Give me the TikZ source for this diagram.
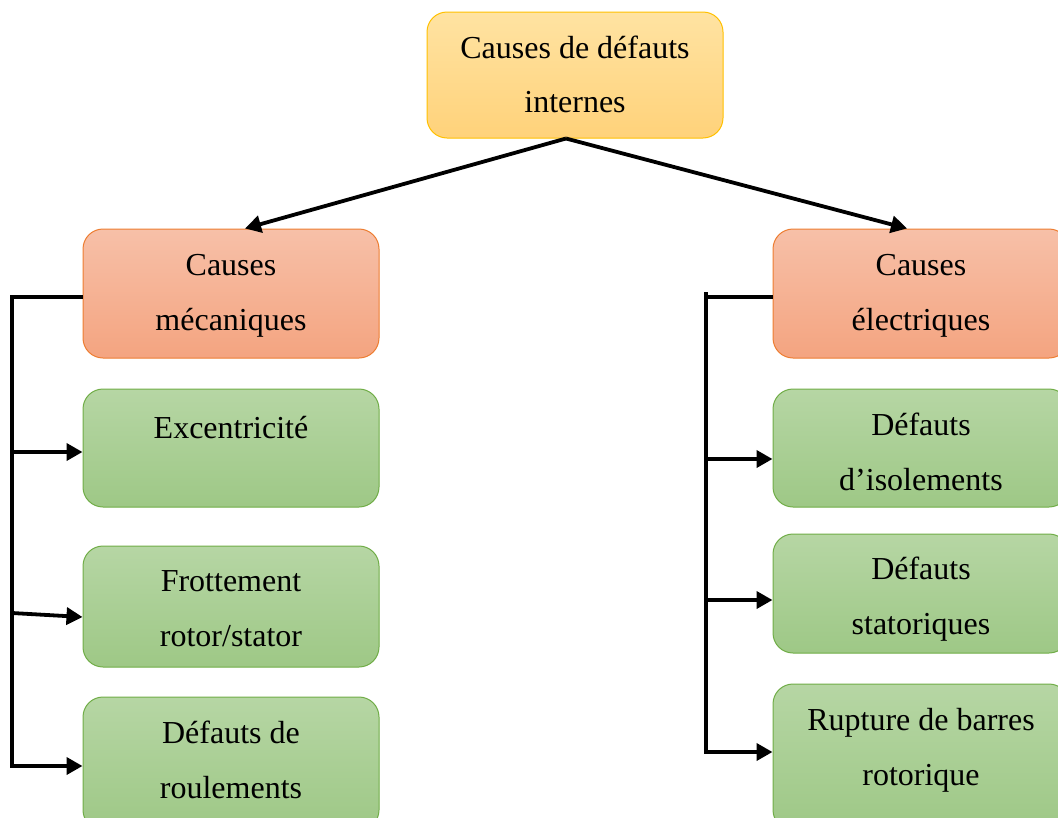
\documentclass[tikz,border=0pt]{standalone}
\usepackage{fontspec}
\setmainfont{Liberation Serif}
\usetikzlibrary{arrows.meta}
\definecolor{topline}{RGB}{255,192,0}
\definecolor{topA}{RGB}{255,227,162}
\definecolor{topB}{RGB}{255,210,122}
\definecolor{redline}{RGB}{237,125,49}
\definecolor{redA}{RGB}{247,192,168}
\definecolor{redB}{RGB}{244,164,128}
\definecolor{grnline}{RGB}{112,173,71}
\definecolor{grnA}{RGB}{182,214,164}
\definecolor{grnB}{RGB}{158,200,134}
\tikzset{
  box/.style={draw, line width=1pt, rounded corners=20pt, minimum width=296pt, inner sep=0pt},
  topbox/.style={box, draw=topline, top color=topA, bottom color=topB},
  redbox/.style={box, draw=redline, top color=redA, bottom color=redB},
  grnbox/.style={box, draw=grnline, top color=grnA, bottom color=grnB},
  lbl/.style={anchor=base, inner sep=0pt, font=\fontsize{32}{40}\selectfont},
  conn/.style={line width=3.8pt, black},
  arr/.style={conn, -{Triangle[length=16pt,width=17pt]}},
}
\begin{document}
\begin{tikzpicture}[x=1pt, y=-1pt]
\useasboundingbox (0,0) rectangle (1058,817);
\clip (0,0) rectangle (1058,817);

% boxes
\node[topbox, minimum height=126pt] (top)  at (575,75)    {};
\node[redbox, minimum height=129pt] (mec)  at (231,293.5) {};
\node[redbox, minimum height=129pt] (ele)  at (921,293.5) {};
\node[grnbox, minimum height=118pt] (exc)  at (231,448)   {};
\node[grnbox, minimum height=121pt] (frot) at (231,606.5) {};
\node[grnbox, minimum height=133pt] (roul) at (231,763.5) {};
\node[grnbox, minimum height=118pt] (iso)  at (921,448)   {};
\node[grnbox, minimum height=119pt] (stat) at (921,593.5) {};
\node[grnbox, minimum height=146pt] (rupt) at (921,757)   {};

% labels
\node[lbl] (top1)  at (575,58)  {Causes de défauts};
\node[lbl] (top2)  at (575,112) {internes};
\node[lbl] (mec1)  at (231,275) {Causes};
\node[lbl] (mec2)  at (231,330) {mécaniques};
\node[lbl] (ele1)  at (921,275) {Causes};
\node[lbl] (ele2)  at (921,330) {électriques};
\node[lbl] (exc1)  at (231,438) {Excentricité};
\node[lbl] (frot1) at (231,591) {Frottement};
\node[lbl] (frot2) at (231,646) {rotor/stator};
\node[lbl] (roul1) at (231,743) {Défauts de};
\node[lbl] (roul2) at (231,798) {roulements};
\node[lbl] (iso1)  at (921,435) {Défauts};
\node[lbl] (iso2)  at (921,490) {d’isolements};
\node[lbl] (stat1) at (921,579) {Défauts};
\node[lbl] (stat2) at (921,634) {statoriques};
\node[lbl] (rupt1) at (921,730) {Rupture de barres};
\node[lbl] (rupt2) at (921,785) {rotorique};

% top level split
\draw[arr] ([xshift=-9pt]top.south) -- ([xshift=14pt]mec.north);
\draw[arr] ([xshift=-9pt]top.south) -- ([xshift=-14pt]ele.north);

% mechanical branch
\coordinate (L0) at (12,297);
\coordinate (L1) at (12,452);
\coordinate (L2) at (12,613);
\coordinate (L3) at (12,766);
\draw[arr] (mec.west |- L0) -- (L0) -- (L3) -- (roul.west |- L3);
\draw[arr] (L1) -- (exc.west |- L1);
\draw[arr] (L2) -- ([yshift=-4pt]frot.west |- L2);

% electrical branch
\coordinate (RT) at (706,292);
\coordinate (R0) at (706,297);
\coordinate (R1) at (706,459);
\coordinate (R2) at (706,600);
\coordinate (R3) at (706,752);
\draw[conn] (ele.west |- R0) -- (R0);
\draw[arr] (RT) -- (R3) -- (rupt.west |- R3);
\draw[arr] (R1) -- (iso.west |- R1);
\draw[arr] (R2) -- (stat.west |- R2);
\end{tikzpicture}
\end{document}
